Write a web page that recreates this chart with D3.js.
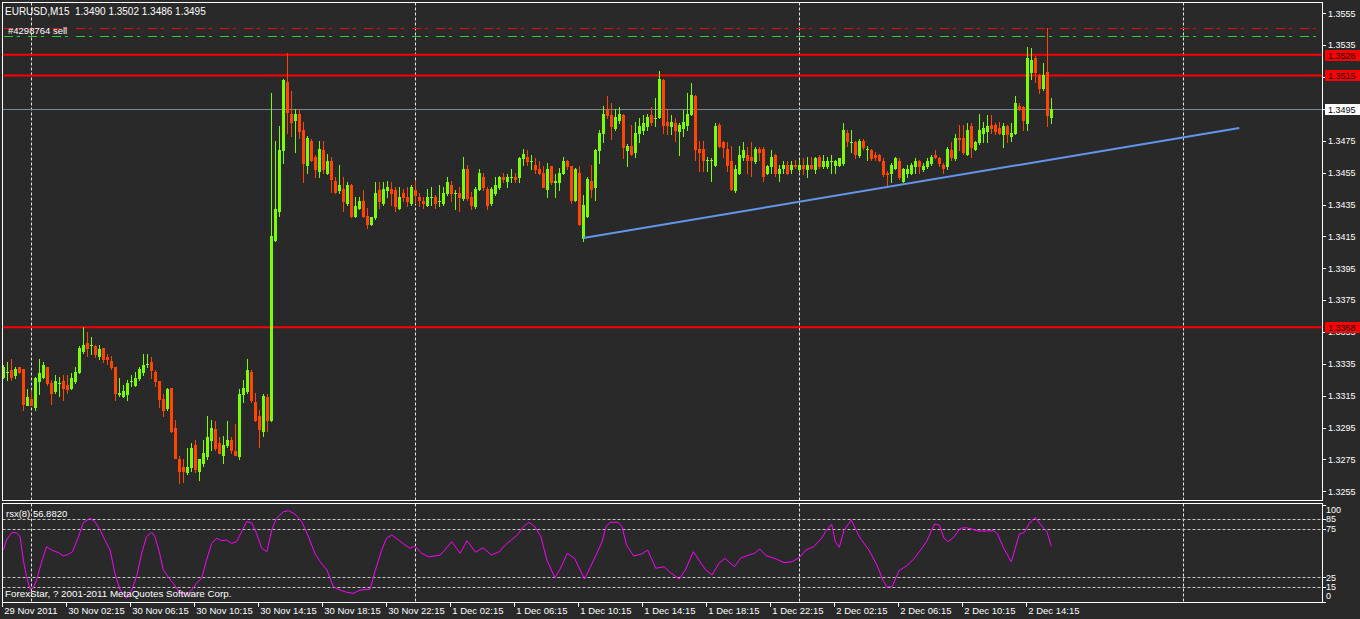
<!DOCTYPE html>
<html><head><meta charset="utf-8">
<script src="https://cdn.jsdelivr.net/npm/d3@7"></script>
<style>html,body{margin:0;padding:0;background:#292929;overflow:hidden}svg{display:block}</style>
</head><body>
<svg id="c" width="1360" height="619"></svg>
<script>
// ---------------- DATA ----------------
const chartTitle = "EURUSD,M15  1.3490 1.3502 1.3486 1.3495";
const orderLabel = "#4298764 sell";
const rsiTitle = "rsx(8) 56.8820";
const copyright = "ForexStar, ? 2001-2011 MetaQuotes Software Corp.";

const openP = [
1.3327,1.3330,1.3331,1.3328,1.3333,1.3332,1.3309,1.3313,1.3308,1.3324,
1.3327,1.3333,1.3323,1.3318,1.3323,1.3324,1.3322,1.3320,1.3324,1.3330,
1.3343,1.3348,1.3347,1.3346,1.3340,1.3345,1.3339,1.3337,1.3333,1.3316,
1.3315,1.3316,1.3324,1.3322,1.3326,1.3330,1.3335,1.3336,1.3330,1.3324,
1.3313,1.3307,1.3320,1.3295,1.3275,1.3270,1.3267,1.3270,1.3284,1.3268,
1.3273,1.3277,1.3287,1.3294,1.3285,1.3278,1.3284,1.3287,1.3280,1.3277,
1.3316,1.3318,1.3330,1.3311,1.3302,1.3293,1.3314,1.3300,1.3413,1.3431,
1.3469,1.3512,1.3492,1.3488,1.3492,1.3482,1.3460,1.3475,1.3465,1.3456,
1.3469,1.3455,1.3462,1.3450,1.3444,1.3445,1.3436,1.3447,1.3428,1.3433,
1.3437,1.3428,1.3423,1.3427,1.3444,1.3436,1.3444,1.3445,1.3444,1.3433,
1.3442,1.3440,1.3436,1.3444,1.3440,1.3437,1.3435,1.3440,1.3440,1.3437,
1.3436,1.3442,1.3447,1.3442,1.3442,1.3439,1.3457,1.3440,1.3434,1.3445,
1.3452,1.3445,1.3436,1.3442,1.3446,1.3452,1.3450,1.3452,1.3452,1.3452,
1.3464,1.3465,1.3462,1.3460,1.3457,1.3455,1.3445,1.3459,1.3449,1.3449,
1.3455,1.3462,1.3459,1.3438,1.3455,1.3414,1.3428,1.3450,1.3446,1.3469,
1.3480,1.3494,1.3491,1.3483,1.3488,1.3491,1.3469,1.3472,1.3468,1.3480,
1.3482,1.3484,1.3491,1.3489,1.3490,1.3513,1.3487,1.3484,1.3486,1.3481,
1.3483,1.3485,1.3492,1.3503,1.3470,1.3470,1.3463,1.3463,1.3460,1.3485,
1.3474,1.3470,1.3462,1.3444,1.3455,1.3465,1.3466,1.3465,1.3462,1.3470,
1.3470,1.3455,1.3459,1.3466,1.3455,1.3458,1.3460,1.3457,1.3460,1.3457,
1.3460,1.3457,1.3460,1.3457,1.3465,1.3459,1.3459,1.3462,1.3460,1.3460,
1.3461,1.3480,1.3474,1.3474,1.3466,1.3475,1.3470,1.3469,1.3466,1.3466,
1.3462,1.3455,1.3455,1.3458,1.3462,1.3450,1.3455,1.3455,1.3459,1.3462,
1.3457,1.3459,1.3461,1.3466,1.3464,1.3460,1.3459,1.3469,1.3464,1.3477,
1.3477,1.3467,1.3484,1.3470,1.3474,1.3480,1.3481,1.3485,1.3485,1.3483,
1.3479,1.3484,1.3478,1.3480,1.3497,1.3496,1.3486,1.3518,1.3527,1.3516,
1.3508,1.3518,1.3490];
const highP = [
1.3334,1.3336,1.3338,1.3333,1.3333,1.3332,1.3319,1.3318,1.3327,1.3338,
1.3336,1.3333,1.3325,1.3328,1.3327,1.3328,1.3328,1.3329,1.3333,1.3346,
1.3358,1.3355,1.3352,1.3347,1.3347,1.3345,1.3341,1.3340,1.3333,1.3326,
1.3322,1.3325,1.3328,1.3330,1.3333,1.3341,1.3341,1.3339,1.3331,1.3324,
1.3316,1.3320,1.3320,1.3300,1.3277,1.3275,1.3282,1.3285,1.3287,1.3275,
1.3287,1.3302,1.3300,1.3299,1.3289,1.3290,1.3299,1.3289,1.3297,1.3319,
1.3325,1.3338,1.3331,1.3317,1.3306,1.3316,1.3316,1.3505,1.3475,1.3484,
1.3514,1.3530,1.3506,1.3495,1.3495,1.3487,1.3478,1.3476,1.3466,1.3475,
1.3475,1.3467,1.3465,1.3452,1.3460,1.3452,1.3449,1.3448,1.3440,1.3440,
1.3444,1.3433,1.3427,1.3449,1.3449,1.3449,1.3450,1.3449,1.3446,1.3446,
1.3445,1.3446,1.3447,1.3450,1.3442,1.3440,1.3445,1.3446,1.3441,1.3447,
1.3446,1.3452,1.3450,1.3444,1.3446,1.3465,1.3460,1.3443,1.3446,1.3457,
1.3455,1.3446,1.3446,1.3452,1.3453,1.3455,1.3454,1.3457,1.3455,1.3465,
1.3470,1.3469,1.3466,1.3464,1.3462,1.3459,1.3461,1.3459,1.3454,1.3458,
1.3465,1.3463,1.3459,1.3458,1.3459,1.3441,1.3452,1.3460,1.3470,1.3482,
1.3497,1.3503,1.3499,1.3495,1.3496,1.3492,1.3473,1.3485,1.3487,1.3489,
1.3491,1.3492,1.3496,1.3502,1.3519,1.3514,1.3494,1.3491,1.3489,1.3486,
1.3494,1.3505,1.3511,1.3504,1.3475,1.3475,1.3465,1.3464,1.3486,1.3486,
1.3475,1.3474,1.3472,1.3460,1.3472,1.3474,1.3471,1.3474,1.3471,1.3471,
1.3471,1.3460,1.3469,1.3467,1.3460,1.3462,1.3462,1.3462,1.3463,1.3463,
1.3464,1.3465,1.3465,1.3465,1.3466,1.3466,1.3465,1.3466,1.3463,1.3464,
1.3486,1.3482,1.3482,1.3475,1.3476,1.3476,1.3472,1.3470,1.3468,1.3467,
1.3464,1.3456,1.3461,1.3465,1.3464,1.3458,1.3460,1.3461,1.3464,1.3463,
1.3461,1.3464,1.3466,1.3469,1.3465,1.3461,1.3471,1.3474,1.3479,1.3485,
1.3485,1.3486,1.3486,1.3475,1.3492,1.3487,1.3491,1.3491,1.3486,1.3487,
1.3486,1.3485,1.3486,1.3503,1.3499,1.3497,1.3534,1.3533,1.3528,1.3517,
1.3524,1.3546,1.3502];
const lowP = [
1.3326,1.3325,1.3325,1.3326,1.3329,1.3306,1.3309,1.3309,1.3306,1.3316,
1.3326,1.3322,1.3310,1.3317,1.3315,1.3312,1.3317,1.3319,1.3323,1.3329,
1.3342,1.3340,1.3341,1.3339,1.3338,1.3336,1.3335,1.3332,1.3312,1.3315,
1.3314,1.3312,1.3321,1.3321,1.3325,1.3328,1.3333,1.3326,1.3321,1.3308,
1.3302,1.3306,1.3292,1.3276,1.3260,1.3261,1.3266,1.3268,1.3267,1.3262,
1.3271,1.3275,1.3281,1.3281,1.3279,1.3273,1.3283,1.3279,1.3278,1.3275,
1.3311,1.3317,1.3311,1.3299,1.3283,1.3290,1.3293,1.3299,1.3412,1.3428,
1.3461,1.3480,1.3478,1.3468,1.3477,1.3449,1.3455,1.3462,1.3452,1.3452,
1.3455,1.3454,1.3443,1.3442,1.3442,1.3431,1.3435,1.3427,1.3427,1.3432,
1.3427,1.3420,1.3422,1.3426,1.3433,1.3435,1.3440,1.3435,1.3431,1.3432,
1.3437,1.3434,1.3435,1.3436,1.3434,1.3433,1.3434,1.3435,1.3433,1.3434,
1.3435,1.3441,1.3437,1.3432,1.3431,1.3438,1.3438,1.3432,1.3433,1.3444,
1.3444,1.3432,1.3435,1.3441,1.3445,1.3449,1.3446,1.3449,1.3449,1.3449,
1.3460,1.3460,1.3457,1.3455,1.3454,1.3446,1.3440,1.3448,1.3440,1.3444,
1.3454,1.3457,1.3436,1.3437,1.3422,1.3412,1.3427,1.3440,1.3438,1.3461,
1.3474,1.3489,1.3476,1.3482,1.3486,1.3464,1.3459,1.3466,1.3465,1.3474,
1.3479,1.3482,1.3485,1.3484,1.3489,1.3480,1.3479,1.3479,1.3475,1.3466,
1.3478,1.3482,1.3491,1.3463,1.3456,1.3456,1.3456,1.3450,1.3459,1.3471,
1.3465,1.3456,1.3444,1.3443,1.3454,1.3463,1.3455,1.3453,1.3461,1.3463,
1.3450,1.3454,1.3455,1.3453,1.3450,1.3455,1.3454,1.3455,1.3458,1.3456,
1.3454,1.3452,1.3457,1.3455,1.3458,1.3458,1.3458,1.3455,1.3455,1.3459,
1.3460,1.3472,1.3468,1.3464,1.3465,1.3470,1.3463,1.3463,1.3463,1.3462,
1.3453,1.3446,1.3449,1.3457,1.3451,1.3449,1.3452,1.3454,1.3455,1.3455,
1.3456,1.3458,1.3460,1.3464,1.3459,1.3455,1.3457,1.3463,1.3463,1.3469,
1.3467,1.3466,1.3465,1.3469,1.3473,1.3474,1.3474,1.3480,1.3479,1.3479,
1.3471,1.3474,1.3475,1.3479,1.3494,1.3482,1.3482,1.3514,1.3512,1.3505,
1.3507,1.3484,1.3486];
const closeP = [
1.3333,1.3330,1.3327,1.3332,1.3330,1.3310,1.3314,1.3309,1.3326,1.3329,
1.3334,1.3323,1.3317,1.3324,1.3323,1.3320,1.3319,1.3326,1.3330,1.3345,
1.3347,1.3345,1.3347,1.3341,1.3344,1.3338,1.3338,1.3333,1.3317,1.3317,
1.3318,1.3323,1.3324,1.3326,1.3332,1.3334,1.3335,1.3331,1.3324,1.3313,
1.3306,1.3319,1.3293,1.3276,1.3268,1.3268,1.3270,1.3282,1.3269,1.3275,
1.3279,1.3289,1.3295,1.3282,1.3279,1.3284,1.3287,1.3281,1.3278,1.3316,
1.3320,1.3331,1.3312,1.3300,1.3294,1.3315,1.3300,1.3415,1.3432,1.3469,
1.3513,1.3493,1.3487,1.3492,1.3481,1.3461,1.3477,1.3463,1.3457,1.3470,
1.3457,1.3462,1.3451,1.3443,1.3447,1.3437,1.3447,1.3428,1.3434,1.3437,
1.3428,1.3423,1.3427,1.3442,1.3437,1.3445,1.3446,1.3442,1.3434,1.3440,
1.3440,1.3437,1.3446,1.3441,1.3438,1.3436,1.3440,1.3440,1.3436,1.3437,
1.3442,1.3449,1.3442,1.3442,1.3440,1.3457,1.3439,1.3435,1.3445,1.3455,
1.3446,1.3435,1.3445,1.3447,1.3452,1.3451,1.3452,1.3452,1.3451,1.3464,
1.3467,1.3462,1.3462,1.3457,1.3455,1.3446,1.3457,1.3449,1.3450,1.3455,
1.3462,1.3459,1.3438,1.3457,1.3423,1.3435,1.3451,1.3445,1.3469,1.3480,
1.3492,1.3491,1.3484,1.3490,1.3492,1.3471,1.3472,1.3467,1.3480,1.3484,
1.3486,1.3490,1.3487,1.3489,1.3514,1.3485,1.3485,1.3487,1.3482,1.3485,
1.3487,1.3492,1.3504,1.3470,1.3468,1.3463,1.3463,1.3463,1.3484,1.3472,
1.3471,1.3460,1.3445,1.3457,1.3466,1.3469,1.3463,1.3463,1.3470,1.3468,
1.3453,1.3459,1.3465,1.3455,1.3457,1.3460,1.3455,1.3460,1.3459,1.3460,
1.3458,1.3460,1.3458,1.3464,1.3459,1.3462,1.3462,1.3462,1.3462,1.3464,
1.3482,1.3475,1.3474,1.3467,1.3475,1.3471,1.3470,1.3464,1.3465,1.3463,
1.3454,1.3454,1.3460,1.3464,1.3452,1.3457,1.3457,1.3460,1.3462,1.3459,
1.3459,1.3462,1.3465,1.3465,1.3461,1.3458,1.3470,1.3465,1.3477,1.3476,
1.3468,1.3482,1.3471,1.3474,1.3482,1.3483,1.3484,1.3483,1.3481,1.3480,
1.3484,1.3479,1.3480,1.3499,1.3495,1.3488,1.3527,1.3526,1.3518,1.3508,
1.3516,1.3491,1.3495];

const priceTicks = [1.3555,1.3535,1.3515,1.3495,1.3475,1.3455,1.3435,1.3415,1.3395,1.3375,1.3355,1.3335,1.3315,1.3295,1.3275,1.3255];
const timeLabels = ["29 Nov 2011","30 Nov 02:15","30 Nov 06:15","30 Nov 10:15","30 Nov 14:15","30 Nov 18:15","30 Nov 22:15","1 Dec 02:15","1 Dec 06:15","1 Dec 10:15","1 Dec 14:15","1 Dec 18:15","1 Dec 22:15","2 Dec 02:15","2 Dec 06:15","2 Dec 10:15","2 Dec 14:15"];
const timeLabelBars = [0,16,32,48,64,80,96,112,128,144,160,176,192,208,224,240,256];
const daySeparatorBars = [7,103,199,295];

const levelPrices = [1.3529,1.3516,1.3358];
const levelLabels = ["1.3528","1.3515","1.3358"];
const bidPrice = 1.3495;
const bidLabel = "1.3495";
const stopPrice = 1.3546;
const targetPrice = 1.3541;
const trendBars = [145,309];
const trendPrices = [1.3414,1.3483];

const rsiBars = [0,0.8,2.1,3.3,4.2,5,5.8,6.7,7.5,8.3,9.6,10.8,12.1,13.8,15,16.3,17.3,18.8,20,21.7,22.9,24.2,25.4,26.7,27.9,29.2,30.8,32.1,33.3,34.6,35.8,37.1,37.9,39,40,41.3,42.5,44.2,45.9,47.1,48.4,49.6,50.8,52.1,53.3,54.6,55.8,57.1,58.3,59.6,60.8,62.1,63.3,64.6,65.9,67.1,68.3,70,71.3,72.9,74.6,76.3,77.9,79.2,80.9,82.5,84.2,85.8,87.5,89.2,91.7,92.9,94.6,95.8,97.1,98.8,100.4,101.7,102.9,104.6,106.3,107.9,109.2,110.4,112.1,113.3,114.2,115.9,118.1,119.9,122,124,125.5,128.5,130,131.4,132.9,134.4,135.9,137.9,139.3,141,142.8,145.3,146.8,148.2,149.7,150.7,151.7,153.7,154.7,155.8,157.6,159.6,161.1,163.1,165.2,167,169,170.5,172.5,173.9,175.6,177.2,178.9,180.4,182.8,184.3,186.3,187.8,189.1,190.7,193.2,195.2,197.2,199.1,200.6,202.6,204.6,205.8,207.1,208,209,210.2,212,214,216.4,218.4,219.9,220.9,222.2,223.9,225.8,227.8,230.8,232.8,234,235.2,236.2,237.7,239.2,240.7,242.1,243.6,245.6,247.6,248.5,250.1,252,254,255.3,256.5,258,259.4,260.9,262];
const rsiValues = [53.1,63.4,71.0,71.0,66.8,42.8,25.6,12.7,14.0,22.2,41.1,56.5,53.1,50.4,47.0,48.7,51.4,66.8,81.3,85.8,82.3,73.7,63.4,53.1,29.1,11.9,3.4,11.9,25.6,49.7,66.8,71.4,66.8,51.4,32.5,25.0,18.8,8.5,7.8,11.9,19.5,24.0,42.8,60.0,65.2,62.7,63.4,60.0,61.7,72.0,82.3,81.3,70.3,54.9,51.4,73.7,85.8,92.6,93.6,90.2,82.3,66.8,49.7,41.1,32.5,15.3,11.9,9.6,8.5,11.9,12.7,30.8,53.1,65.2,68.6,63.4,58.3,54.9,57.3,49.7,46.2,47.0,48.0,53.1,61.7,54.9,49.7,62.7,50.8,55.5,48.0,51.4,58.3,68.6,77.1,81.7,77.1,66.8,42.8,24.6,34.3,49.7,44.6,23.3,35.9,48.0,61.7,77.1,81.7,81.7,77.1,58.3,47.0,49.0,53.1,34.3,35.9,29.1,23.3,32.5,51.4,42.8,32.5,27.4,39.4,44.6,35.9,44.6,48.0,49.7,54.2,47.3,43.9,40.1,41.1,45.6,53.1,56.5,65.2,73.7,79.6,61.7,55.9,73.7,84.0,66.8,53.1,37.7,22.2,15.3,15.3,31.8,36.7,44.6,61.7,79.9,78.9,65.2,61.7,66.8,75.5,76.1,74.8,72.7,72.7,73.0,70.3,54.9,41.1,69.3,71.4,80.6,86.8,78.9,72.0,56.9];
const rsiLevels = [85,75,25,15];
const rsiTicks = [100,85,75,25,15,0];

// ---------------- DRAW ----------------
const W = 1360, H = 619;
const BG = "#292929", FG = "#ffffff";
const BULL = "#7CFC00", BEAR = "#FF4500";
const FONT = "Liberation Sans, Arial, sans-serif";

const svg = d3.select("#c");
svg.append("rect").attr("width", W).attr("height", H).attr("fill", BG);

const mainBox = {x0: 2.5, x1: 1322.5, y0: 2.5, y1: 500.5};
const subBox  = {x0: 2.5, x1: 1322.5, y0: 503.5, y1: 602.5};

const x = d3.scaleLinear().domain([0, 100]).range([3.3, 403.3]);       // bar index -> px
const y = d3.scaleLinear().domain([1.3255, 1.3555]).range([491.3, 13.3]);
const yR = d3.scaleLinear().domain([0, 100]).range([601.6, 504.5]);

const defs = svg.append("defs");
defs.append("clipPath").attr("id", "clipMain").append("rect")
  .attr("x", mainBox.x0 + 0.5).attr("y", mainBox.y0 + 0.5)
  .attr("width", mainBox.x1 - mainBox.x0 - 1).attr("height", mainBox.y1 - mainBox.y0 - 1);
defs.append("clipPath").attr("id", "clipSub").append("rect")
  .attr("x", subBox.x0 + 0.5).attr("y", subBox.y0 + 0.5)
  .attr("width", subBox.x1 - subBox.x0 - 1).attr("height", subBox.y1 - subBox.y0 - 1);

const gMain = svg.append("g").attr("clip-path", "url(#clipMain)");
const gSub = svg.append("g").attr("clip-path", "url(#clipSub)");

// day separators (vertical dotted grid)
[gMain, gSub].forEach((g, k) => {
  const box = k === 0 ? mainBox : subBox;
  g.selectAll("line.sep").data(daySeparatorBars).join("line")
    .attr("class", "sep")
    .attr("x1", d => Math.round(x(d)) + 0.5).attr("x2", d => Math.round(x(d)) + 0.5)
    .attr("y1", box.y0).attr("y2", box.y1)
    .attr("stroke", "#e6e6e6").attr("stroke-width", 1).attr("stroke-dasharray", "3,2");
});

// RSI level lines
gSub.selectAll("line.lvl").data(rsiLevels).join("line")
  .attr("class", "lvl")
  .attr("x1", subBox.x0).attr("x2", subBox.x1)
  .attr("y1", d => Math.round(yR(d)) + 0.5).attr("y2", d => Math.round(yR(d)) + 0.5)
  .attr("stroke", "#c8c8c8").attr("stroke-width", 1).attr("stroke-dasharray", "3,2");

// stop / target dash-dot lines
[[stopPrice, "#ff0000"], [targetPrice, "#32cd32"]].forEach(([p, col]) => {
  gMain.append("line")
    .attr("x1", 4).attr("x2", 1318)
    .attr("y1", Math.round(y(p)) + 0.5).attr("y2", Math.round(y(p)) + 0.5)
    .attr("stroke", col).attr("stroke-width", 1).attr("stroke-dasharray", "9,4,3,8");
});

// horizontal level lines
gMain.selectAll("line.hl").data(levelPrices).join("line")
  .attr("class", "hl")
  .attr("x1", mainBox.x0).attr("x2", mainBox.x1)
  .attr("y1", d => y(d)).attr("y2", d => y(d))
  .attr("stroke", "#ff0000").attr("stroke-width", 2);

// bid line
gMain.append("line")
  .attr("x1", mainBox.x0).attr("x2", mainBox.x1)
  .attr("y1", Math.round(y(bidPrice)) + 0.5).attr("y2", Math.round(y(bidPrice)) + 0.5)
  .attr("stroke", "#778899").attr("stroke-width", 1);

// candles
const bars = d3.range(openP.length).map(i => ({i, o: openP[i], h: highP[i], l: lowP[i], c: closeP[i]}));
const colorOf = d => d.c >= d.o ? BULL : BEAR;
const gC = gMain.append("g").attr("shape-rendering", "crispEdges");
gC.selectAll("line.wick").data(bars).join("line")
  .attr("class", "wick")
  .attr("x1", d => Math.round(x(d.i)) + 0.5).attr("x2", d => Math.round(x(d.i)) + 0.5)
  .attr("y1", d => Math.round(y(d.h))).attr("y2", d => Math.round(y(d.l)) + 1)
  .attr("stroke", colorOf).attr("stroke-width", 1);
gC.selectAll("rect.body").data(bars).join("rect")
  .attr("class", "body")
  .attr("x", d => Math.round(x(d.i)) - 1)
  .attr("width", 3)
  .attr("y", d => Math.round(y(Math.max(d.o, d.c))))
  .attr("height", d => Math.max(1, Math.round(y(Math.min(d.o, d.c))) - Math.round(y(Math.max(d.o, d.c))) + 1))
  .attr("fill", colorOf);

// trend line
gMain.append("line")
  .attr("x1", x(trendBars[0])).attr("y1", y(trendPrices[0]))
  .attr("x2", x(trendBars[1])).attr("y2", y(trendPrices[1]))
  .attr("stroke", "#6495ED").attr("stroke-width", 2);

// RSI line
const rsiPts = rsiBars.map((b, k) => [b, rsiValues[k]]);
gSub.append("path")
  .attr("d", d3.line().x(d => x(d[0])).y(d => yR(d[1]))(rsiPts))
  .attr("fill", "none").attr("stroke", "#ff00ff").attr("stroke-width", 1);

// panel borders
[mainBox, subBox].forEach(b => {
  svg.append("rect").attr("x", b.x0).attr("y", b.y0)
    .attr("width", b.x1 - b.x0).attr("height", b.y1 - b.y0)
    .attr("fill", "none").attr("stroke", FG).attr("stroke-width", 1);
});

// texts inside panels
svg.append("text").attr("x", 5).attr("y", 14.5).text(chartTitle)
  .attr("fill", FG).attr("font-family", FONT).attr("font-size", 10).style("white-space", "pre");
svg.append("text").attr("x", 8).attr("y", 33.5).text(orderLabel)
  .attr("fill", FG).attr("font-family", FONT).attr("font-size", 9.5);
svg.append("text").attr("x", 6).attr("y", 517).text(rsiTitle)
  .attr("fill", FG).attr("font-family", FONT).attr("font-size", 9.5);
svg.append("text").attr("x", 5).attr("y", 597).text(copyright)
  .attr("fill", FG).attr("font-family", FONT).attr("font-size", 9.8);

// price axis
const gY = svg.append("g");
gY.selectAll("line").data(priceTicks).join("line")
  .attr("x1", 1322).attr("x2", 1326)
  .attr("y1", d => Math.round(y(d)) + 0.5).attr("y2", d => Math.round(y(d)) + 0.5)
  .attr("stroke", FG);
gY.selectAll("text").data(priceTicks).join("text")
  .attr("x", 1328).attr("y", d => y(d) + 3.3)
  .text(d => d3.format(".4f")(d))
  .attr("fill", FG).attr("font-family", FONT).attr("font-size", 9);

// price boxes
const boxes = levelPrices.map((p, k) => ({p, t: levelLabels[k], fill: "#ff0000"}))
  .concat([{p: bidPrice, t: bidLabel, fill: "#ffffff"}]);
const gB = svg.append("g");
gB.selectAll("rect").data(boxes).join("rect")
  .attr("x", 1325).attr("y", d => Math.round(y(d.p)) - 5)
  .attr("width", 35).attr("height", 11).attr("fill", d => d.fill);
gB.selectAll("text").data(boxes).join("text")
  .attr("x", 1328).attr("y", d => Math.round(y(d.p)) + 3.8)
  .text(d => d.t)
  .attr("fill", "#000").attr("font-family", FONT).attr("font-size", 9);

// RSI axis
const gR = svg.append("g");
gR.selectAll("line").data(rsiTicks).join("line")
  .attr("x1", 1322).attr("x2", 1326)
  .attr("y1", d => Math.round(yR(d)) + 0.5).attr("y2", d => Math.round(yR(d)) + 0.5)
  .attr("stroke", FG);
gR.selectAll("text").data(rsiTicks).join("text")
  .attr("x", 1326).attr("y", d => Math.min(596, Math.max(510, yR(d))) + 3.3)
  .text(d => d)
  .attr("fill", FG).attr("font-family", FONT).attr("font-size", 9);

// time axis
const gX = svg.append("g");
gX.selectAll("line").data(timeLabelBars).join("line")
  .attr("x1", d => Math.round(x(d)) - 0.5).attr("x2", d => Math.round(x(d)) - 0.5)
  .attr("y1", 603).attr("y2", 607)
  .attr("stroke", FG);
gX.selectAll("text").data(timeLabelBars).join("text")
  .attr("x", d => x(d) + 1).attr("y", 613.5)
  .text((d, k) => timeLabels[k])
  .attr("fill", FG).attr("font-family", FONT).attr("font-size", 9.5);
</script>
</body></html>
